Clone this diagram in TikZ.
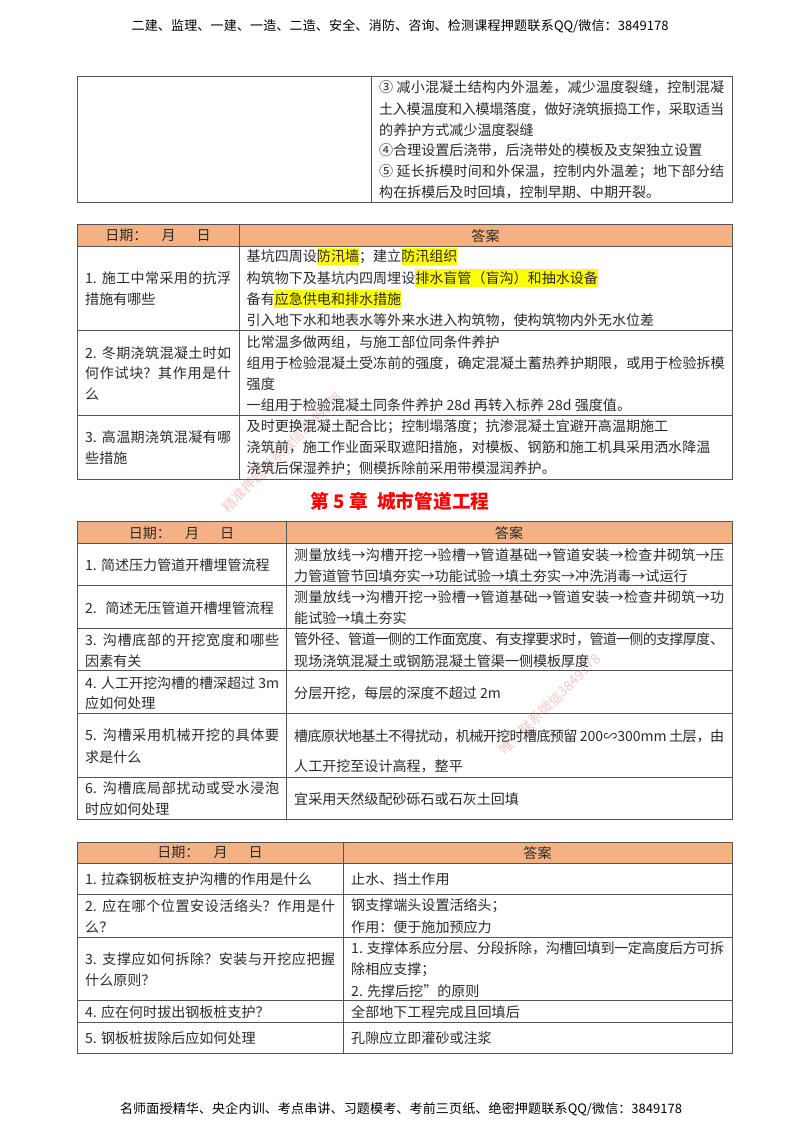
\documentclass[tikz,border=0pt]{standalone}
\usepackage{fontspec}
\setmainfont{Noto Sans CJK SC}
\XeTeXlinebreaklocale "zh"
\XeTeXlinebreakskip=0pt plus 2pt minus 1pt
\definecolor{headorange}{HTML}{F4B183}
\definecolor{gridgray}{HTML}{555555}
\definecolor{txtgray}{HTML}{2A2A2A}
\definecolor{markyellow}{HTML}{FFFF00}
\definecolor{stamppink}{HTML}{F6C6C6}
\newcommand{\fitline}[2]{\parbox{#1pt}{\parfillskip=0pt\relax #2}}
\newcommand{\datehead}{日期：\hspace{1em}月\hspace{1.5em}日}
\tikzset{
  cellline/.style={anchor=west,inner sep=0pt,text=txtgray,font=\fontsize{14.05}{16}\selectfont},
  headline/.style={anchor=center,inner sep=0pt,text=txtgray,font=\fontsize{14.05}{16}\selectfont},
  pageline/.style={anchor=center,inner sep=0pt,text=black,font=\fontsize{13}{15}\selectfont},
  stampline/.style={anchor=center,inner sep=0pt,rotate=45,text=stamppink,font=\fontsize{13.7}{15}\selectfont},
  grid/.style={draw=gridgray,line width=1pt},
  headfill/.style={fill=headorange},
  markfill/.style={fill=markyellow}
}
\begin{document}
\begin{tikzpicture}[x=1pt,y=-1pt]
\useasboundingbox (0,0) rectangle (800,1132);
% page lines
\node[pageline] (toptitle) at (400,26) {\fitline{537}{二建、监理、一建、一造、二造、安全、消防、咨询、检测课程押题联系QQ/微信：3849178}};
\node[pageline] (footline) at (401,1109.3) {\fitline{562}{名师面授精华、央企内训、考点串讲、习题模考、考前三页纸、绝密押题联系QQ/微信：3849178}};
% header fills and marks
\fill[headfill] (77,224.7) rectangle (732,246.3);
\fill[headfill] (77,521.7) rectangle (732,543.3);
\fill[headfill] (77,842) rectangle (732,863.3);
\fill[markfill] (317,248.3) rectangle (359,265);
\fill[markfill] (401.5,248.3) rectangle (457,265);
\fill[markfill] (415,269.3) rectangle (598,287.3);
\fill[markfill] (274,290) rectangle (401,308.3);
% stamps
\node[stampline] (stampa) at (282,452) {精准押题联系微信3849178};
\node[stampline] (stampb) at (550,704) {唯一联系微信3849178};
% table one
\draw[grid] (77,76.7) rectangle (732,202.7);
\draw[grid] (371,76.7) -- (371,202.7);
\node[cellline] (ca1) at (379,87.7) {\fitline{345}{③ 减小混凝土结构内外温差，减少温度裂缝，控制混凝}};
\node[cellline] (ca2) at (379,109) {\fitline{345}{土入模温度和入模塌落度，做好浇筑振捣工作，采取适当}};
\node[cellline] (ca3) at (379,129.7) {的养护方式减少温度裂缝};
\node[cellline] (ca4) at (379,150.3) {④合理设置后浇带，后浇带处的模板及支架独立设置};
\node[cellline] (ca5) at (379,171.3) {\fitline{345}{⑤ 延长拆模时间和外保温，控制内外温差；地下部分结}};
\node[cellline] (ca6) at (379,192.3) {构在拆模后及时回填，控制早期、中期开裂。};
% table two
\draw[grid] (77,224.7) rectangle (732,479);
\draw[grid] (239,224.7) -- (239,479);
\draw[grid] (77,246.3) -- (732,246.3);
\draw[grid] (77,330.7) -- (732,330.7);
\draw[grid] (77,415.3) -- (732,415.3);
\node[headline] (bh1) at (158,235.7) {\datehead};
\node[headline] (bh2) at (485.5,235.7) {答案};
\node[cellline] (bq1a) at (85,278.3) {\fitline{146}{1. 施工中常采用的抗浮}};
\node[cellline] (bq1b) at (85,298.7) {措施有哪些};
\node[cellline] (ba1a) at (246.5,256.7) {基坑四周设防汛墙；建立防汛组织};
\node[cellline] (ba1b) at (246.5,278.3) {构筑物下及基坑内四周埋设排水盲管（盲沟）和抽水设备};
\node[cellline] (ba1c) at (246.5,298.7) {备有应急供电和排水措施};
\node[cellline] (ba1d) at (246.5,320) {引入地下水和地表水等外来水进入构筑物，使构筑物内外无水位差};
\node[cellline] (bq2a) at (85,352.7) {\fitline{146}{2. 冬期浇筑混凝土时如}};
\node[cellline] (bq2b) at (85,373.3) {\fitline{146}{何作试块？其作用是什}};
\node[cellline] (bq2c) at (85,394) {么};
\node[cellline] (ba2a) at (246.5,342.3) {比常温多做两组，与施工部位同条件养护};
\node[cellline] (ba2b) at (246.5,363.3) {\fitline{478}{组用于检验混凝土受冻前的强度，确定混凝土蓄热养护期限，或用于检验拆模}};
\node[cellline] (ba2c) at (246.5,384) {强度};
\node[cellline] (ba2d) at (246.5,405) {一组用于检验混凝土同条件养护 28d 再转入标养 28d 强度值。};
\node[cellline] (bq3a) at (85,437.3) {\fitline{146}{3. 高温期浇筑混凝有哪}};
\node[cellline] (bq3b) at (85,457.7) {些措施};
\node[cellline] (ba3a) at (246.5,426.7) {及时更换混凝土配合比；控制塌落度；抗渗混凝土宜避开高温期施工};
\node[cellline] (ba3b) at (246.5,447.7) {浇筑前，施工作业面采取遮阳措施，对模板、钢筋和施工机具采用洒水降温};
\node[cellline] (ba3c) at (246.5,468.3) {浇筑后保湿养护；侧模拆除前采用带模湿润养护。};
% chapter title
\node[anchor=center,inner sep=0pt,text=red,font=\fontsize{18.7}{22}\selectfont\bfseries] (chaptitle) at (400,501) {第 5 章\hspace{.5em}城市管道工程};
% table three
\draw[grid] (77,521.7) rectangle (732,819.7);
\draw[grid] (286,521.7) -- (286,819.7);
\draw[grid] (77,543.3) -- (732,543.3);
\draw[grid] (77,585.7) -- (732,585.7);
\draw[grid] (77,628.3) -- (732,628.3);
\draw[grid] (77,670.7) -- (732,670.7);
\draw[grid] (77,713.3) -- (732,713.3);
\draw[grid] (77,777) -- (732,777);
\node[headline] (ch1) at (181.5,533) {\datehead};
\node[headline] (ch2) at (509,533) {答案};
\node[cellline] (cq1) at (85,565) {1. 简述压力管道开槽埋管流程};
\node[cellline] (cb1a) at (294,555) {\fitline{430}{测量放线→沟槽开挖→验槽→管道基础→管道安装→检查井砌筑→压}};
\node[cellline] (cb1b) at (294,575.7) {力管道管节回填夯实→功能试验→填土夯实→冲洗消毒→试运行};
\node[cellline] (cq2) at (85,607.7) {2.\hspace{.6em}简述无压管道开槽埋管流程};
\node[cellline] (cb2a) at (294,597.3) {\fitline{430}{测量放线→沟槽开挖→验槽→管道基础→管道安装→检查井砌筑→功}};
\node[cellline] (cb2b) at (294,618.3) {能试验→填土夯实};
\node[cellline] (cq3a) at (85,639.7) {\fitline{194}{3. 沟槽底部的开挖宽度和哪些}};
\node[cellline] (cq3b) at (85,660.7) {因素有关};
\node[cellline] (cb3a) at (294,639.7) {\fitline{430}{管外径、管道一侧的工作面宽度、有支撑要求时，管道一侧的支撑厚度、}};
\node[cellline] (cb3b) at (294,660.7) {现场浇筑混凝土或钢筋混凝土管渠一侧模板厚度};
\node[cellline] (cq4a) at (85,682.7) {\fitline{194}{4. 人工开挖沟槽的槽深超过 3m}};
\node[cellline] (cq4b) at (85,703.3) {应如何处理};
\node[cellline] (cb4) at (294,693.3) {分层开挖，每层的深度不超过 2m};
\node[cellline] (cq5a) at (85,735) {\fitline{194}{5. 沟槽采用机械开挖的具体要}};
\node[cellline] (cq5b) at (85,756.7) {求是什么};
\node[cellline] (cb5a) at (294,736) {\fitline{430}{槽底原状地基土不得扰动，机械开挖时槽底预留 200∽300mm 土层，由}};
\node[cellline] (cb5b) at (294,766.7) {人工开挖至设计高程，整平};
\node[cellline] (cq6a) at (85,788.3) {\fitline{194}{6. 沟槽底局部扰动或受水浸泡}};
\node[cellline] (cq6b) at (85,809.3) {时应如何处理};
\node[cellline] (cb6) at (294,799.3) {宜采用天然级配砂砾石或石灰土回填};
% table four
\draw[grid] (77,842) rectangle (732,1053.3);
\draw[grid] (343,842) -- (343,1053.3);
\draw[grid] (77,863.3) -- (732,863.3);
\draw[grid] (77,894.3) -- (732,894.3);
\draw[grid] (77,937) -- (732,937);
\draw[grid] (77,1000.7) -- (732,1000.7);
\draw[grid] (77,1022.3) -- (732,1022.3);
\node[headline] (dh1) at (210,852.7) {\datehead};
\node[headline] (dh2) at (537.5,852.7) {答案};
\node[cellline] (dq1) at (85,879.3) {1. 拉森钢板桩支护沟槽的作用是什么};
\node[cellline] (da1) at (351,879.3) {止水、挡土作用};
\node[cellline] (dq2a) at (85,906) {\fitline{250}{2. 应在哪个位置安设活络头？作用是什}};
\node[cellline] (dq2b) at (85,927) {么？};
\node[cellline] (da2a) at (351,906) {钢支撑端头设置活络头；};
\node[cellline] (da2b) at (351,927) {作用：便于施加预应力};
\node[cellline] (dq3a) at (85,959) {\fitline{250}{3. 支撑应如何拆除？安装与开挖应把握}};
\node[cellline] (dq3b) at (85,980) {什么原则？};
\node[cellline] (da3a) at (351,948.3) {\fitline{373}{1. 支撑体系应分层、分段拆除，沟槽回填到一定高度后方可拆}};
\node[cellline] (da3b) at (351,970) {除相应支撑；};
\node[cellline] (da3c) at (351,990.7) {2. 先撑后挖”的原则};
\node[cellline] (dq4) at (85,1012) {4. 应在何时拔出钢板桩支护？};
\node[cellline] (da4) at (351,1012) {全部地下工程完成且回填后};
\node[cellline] (dq5) at (85,1038) {5. 钢板桩拔除后应如何处理};
\node[cellline] (da5) at (351,1038) {孔隙应立即灌砂或注浆};
\end{tikzpicture}
\end{document}
